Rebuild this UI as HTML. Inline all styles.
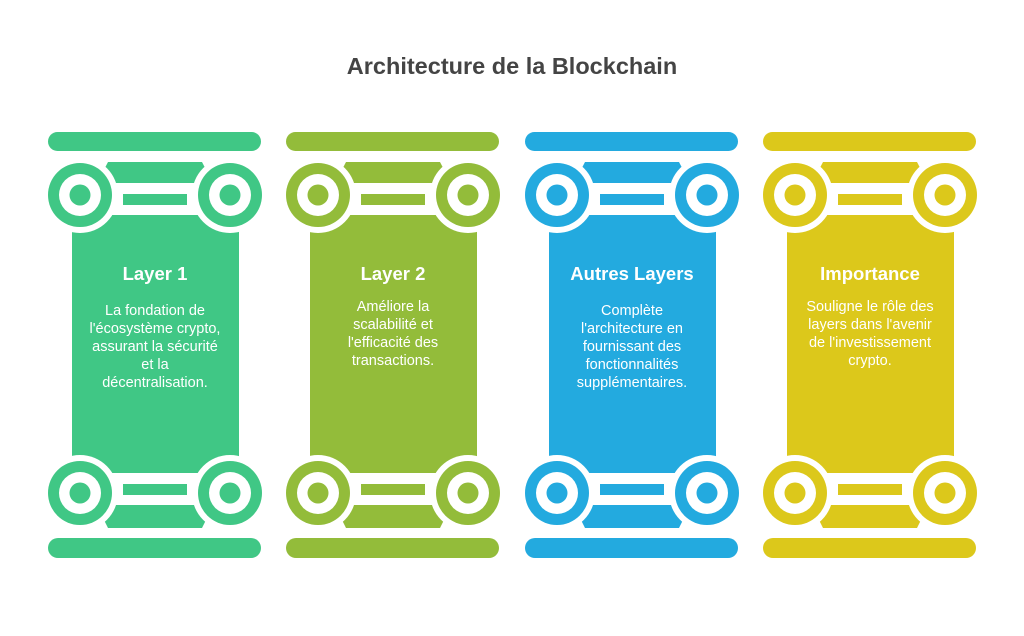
<!DOCTYPE html>
<html><head><meta charset="utf-8"><style>
body{margin:0;background:#fff;}
svg text{font-family:"Liberation Sans",Arial,sans-serif;}
</style></head><body>
<svg width="1024" height="631" viewBox="0 0 1024 631" xmlns="http://www.w3.org/2000/svg">
<defs>
<g id="col">
  <rect x="0" y="7" width="213" height="19" rx="9.5" fill="currentColor"/>
  <rect x="0" y="413" width="213" height="20" rx="10" fill="currentColor"/>
  <polygon points="60,37 154,37 166,60 48,60" fill="currentColor"/>
  <polygon points="48,379 166,379 154,403 60,403" fill="currentColor"/>
  <rect x="24" y="80" width="167" height="300" fill="currentColor"/>
  <circle cx="32" cy="70" r="38" fill="#fff"/>
  <circle cx="182" cy="70" r="38" fill="#fff"/>
  <circle cx="32" cy="368" r="38" fill="#fff"/>
  <circle cx="182" cy="368" r="38" fill="#fff"/>
  <rect x="50" y="58" width="114" height="32" fill="#fff"/>
  <rect x="50" y="348" width="114" height="32" fill="#fff"/>
  <rect x="75" y="69" width="64" height="11" fill="currentColor"/>
  <rect x="75" y="359" width="64" height="11" fill="currentColor"/>
  <g fill="currentColor">
   <circle cx="32" cy="70" r="32"/><circle cx="182" cy="70" r="32"/>
   <circle cx="32" cy="368" r="32"/><circle cx="182" cy="368" r="32"/>
  </g>
  <g fill="#fff">
   <circle cx="32" cy="70" r="21"/><circle cx="182" cy="70" r="21"/>
   <circle cx="32" cy="368" r="21"/><circle cx="182" cy="368" r="21"/>
  </g>
  <g fill="currentColor">
   <circle cx="32" cy="70" r="10.5"/><circle cx="182" cy="70" r="10.5"/>
   <circle cx="32" cy="368" r="10.5"/><circle cx="182" cy="368" r="10.5"/>
  </g>
</g>
</defs>
<text x="512" y="74" text-anchor="middle" font-size="23.5" font-weight="bold" fill="#444">Architecture de la Blockchain</text>

<use href="#col" x="48" y="125" style="color:#40C785"/>
<use href="#col" x="286" y="125" style="color:#93BC3A"/>
<use href="#col" x="525" y="125" style="color:#23AADF"/>
<use href="#col" x="763" y="125" style="color:#DCC81B"/>

<g fill="#fff" text-anchor="middle">
<text x="155" y="280" font-size="18.5" font-weight="bold">Layer 1</text>
<g font-size="14.5"><text x="155" y="315">La fondation de</text><text x="155" y="333">l'écosystème crypto,</text><text x="155" y="351">assurant la sécurité</text><text x="155" y="369">et la</text><text x="155" y="387">décentralisation.</text></g>

<text x="393" y="280" font-size="18.5" font-weight="bold">Layer 2</text>
<g font-size="14.5"><text x="393" y="311">Améliore la</text><text x="393" y="329">scalabilité et</text><text x="393" y="347">l'efficacité des</text><text x="393" y="365">transactions.</text></g>

<text x="632" y="280" font-size="18.5" font-weight="bold">Autres Layers</text>
<g font-size="14.5"><text x="632" y="315">Complète</text><text x="632" y="333">l'architecture en</text><text x="632" y="351">fournissant des</text><text x="632" y="369">fonctionnalités</text><text x="632" y="387">supplémentaires.</text></g>

<text x="870" y="280" font-size="18.5" font-weight="bold">Importance</text>
<g font-size="14.5"><text x="870" y="311">Souligne le rôle des</text><text x="870" y="329">layers dans l'avenir</text><text x="870" y="347">de l'investissement</text><text x="870" y="365">crypto.</text></g>
</g>
</svg>
</body></html>
